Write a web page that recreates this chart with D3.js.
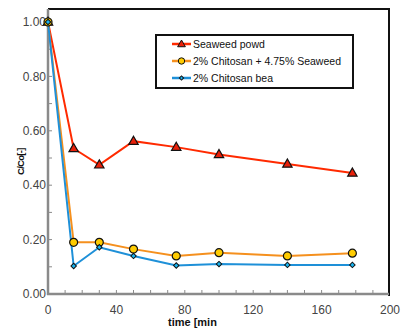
<!DOCTYPE html>
<html>
<head>
<meta charset="utf-8">
<script src="https://cdn.jsdelivr.net/npm/d3@7"></script>
<style>
  body { margin: 0; background: #fff; }
  text { font-family: "Liberation Sans", Arial, sans-serif; }
</style>
</head>
<body>
<div id="chart"></div>
<script>
const TIMES = [0, 15, 30, 50, 75, 100, 140, 178];
const SEAWEED = [1.0, 0.535, 0.475, 0.562, 0.54, 0.513, 0.478, 0.445];
const CHITOSAN_SEAWEED = [1.0, 0.19, 0.19, 0.165, 0.14, 0.152, 0.14, 0.15];
const CHITOSAN_BEAD = [1.0, 0.103, 0.172, 0.14, 0.105, 0.11, 0.107, 0.107];
const X_TICKS = [0, 40, 80, 120, 160, 200];
const Y_TICKS = [0, 0.2, 0.4, 0.6, 0.8, 1.0];

const SERIES = [
  { label: "Seaweed  powd", values: SEAWEED, line: "#ff2a00", fill: "#e8200a", shape: "triangle" },
  { label: "2% Chitosan + 4.75% Seaweed", values: CHITOSAN_SEAWEED, line: "#f5901e", fill: "#ffcc00", shape: "circle" },
  { label: "2% Chitosan  bea", values: CHITOSAN_BEAD, line: "#1e90d8", fill: "#18b4f0", shape: "diamond" },
];

const W = 403, H = 331;
const svg = d3.select("#chart").append("svg").attr("width", W).attr("height", H);

const x = d3.scaleLinear().domain([0, 200]).range([48, 390]);
const y = d3.scaleLinear().domain([0, 1]).range([294, 22]);
const frameTop = 9, frameRight = 389;

// frame: black top & right
svg.append("path")
  .attr("d", `M${x(0)},${frameTop} H${frameRight} V${y(0) + 2}`)
  .attr("fill", "none").attr("stroke", "#111").attr("stroke-width", 2);

// axes (gray)
svg.append("line").attr("x1", x(0)).attr("x2", x(0)).attr("y1", frameTop).attr("y2", y(0) + 1)
  .attr("stroke", "#8a8a8a").attr("stroke-width", 2.5);
svg.append("line").attr("x1", x(0) - 1).attr("x2", frameRight).attr("y1", y(0)).attr("y2", y(0))
  .attr("stroke", "#8a8a8a").attr("stroke-width", 2.5);

// minor ticks
const g = svg.append("g");
d3.range(0, 1.0001, 0.1).forEach((v) => {
  g.append("line").attr("x1", x(0)).attr("x2", x(0) + 4).attr("y1", y(v)).attr("y2", y(v))
    .attr("stroke", "#8a8a8a").attr("stroke-width", 1);
});
d3.range(10, 200, 10).forEach((v) => {
  g.append("line").attr("x1", x(v)).attr("x2", x(v)).attr("y1", y(0)).attr("y2", y(0) - 4)
    .attr("stroke", "#8a8a8a").attr("stroke-width", 1);
});

// tick labels
svg.selectAll(".ylab").data(Y_TICKS).join("text")
  .attr("x", x(0) - 2).attr("y", (d) => y(d)).attr("dy", "0.35em")
  .attr("text-anchor", "end").attr("font-size", 12).attr("fill", "#444")
  .text((d) => d3.format(".2f")(d));
svg.selectAll(".xlab").data(X_TICKS).join("text")
  .attr("x", (d) => x(d)).attr("y", y(0) + 20)
  .attr("text-anchor", "middle").attr("font-size", 12).attr("fill", "#444")
  .text((d) => d);

// axis titles
svg.append("text").attr("x", 168).attr("y", 326)
  .attr("font-size", 11).attr("font-weight", "bold").attr("fill", "#111")
  .text("time  [min");
svg.append("text").attr("transform", "translate(24,175) rotate(-90)")
  .attr("font-size", 9.5).attr("font-weight", "bold").attr("fill", "#111")
  .attr("letter-spacing", "-0.7")
  .text("C/Co[-]");

function marker(sel, shape, fill) {
  if (shape === "triangle") {
    sel.append("path").attr("d", d3.symbol(d3.symbolTriangle, 38)())
      .attr("transform", "translate(0,0.5)")
      .attr("fill", fill).attr("stroke", "#111").attr("stroke-width", 1.2);
  } else if (shape === "circle") {
    sel.append("circle").attr("r", 4).attr("fill", fill).attr("stroke", "#111").attr("stroke-width", 1.2);
  } else {
    sel.append("path").attr("d", d3.symbol(d3.symbolSquare, 15)())
      .attr("transform", "rotate(45)")
      .attr("fill", fill).attr("stroke", "#111").attr("stroke-width", 1);
  }
}

const line = d3.line().x((d) => x(d[0])).y((d) => y(d[1]));

// draw lines first, then markers (blue on top)
SERIES.forEach((s) => {
  const pts = TIMES.map((t, i) => [t, s.values[i]]);
  svg.append("path").datum(pts).attr("d", line)
    .attr("fill", "none").attr("stroke", s.line).attr("stroke-width", 2);
});
SERIES.forEach((s) => {
  TIMES.forEach((t, i) => {
    const m = svg.append("g").attr("transform", `translate(${x(t)},${y(s.values[i])})`);
    marker(m, s.shape, s.fill);
  });
});

// legend
const lg = svg.append("g");
lg.append("rect").attr("x", 156).attr("y", 35).attr("width", 197).attr("height", 53)
  .attr("fill", "#fff").attr("stroke", "#111").attr("stroke-width", 2);
SERIES.forEach((s, i) => {
  const ly = 44 + i * 17;
  lg.append("line").attr("x1", 172).attr("x2", 191).attr("y1", ly).attr("y2", ly)
    .attr("stroke", s.line).attr("stroke-width", 2.5);
  const m = lg.append("g").attr("transform", `translate(181.5,${ly})`);
  if (s.shape === "triangle") {
    m.append("path").attr("d", d3.symbol(d3.symbolTriangle, 26)()).attr("transform", "translate(0,0.5)")
      .attr("fill", s.fill).attr("stroke", "#111").attr("stroke-width", 1);
  } else if (s.shape === "circle") {
    m.append("circle").attr("r", 3.2).attr("fill", s.fill).attr("stroke", "#111").attr("stroke-width", 1);
  } else {
    m.append("path").attr("d", d3.symbol(d3.symbolSquare, 9)()).attr("transform", "rotate(45)")
      .attr("fill", s.fill).attr("stroke", "#111").attr("stroke-width", 1);
  }
  lg.append("text").attr("x", 193).attr("y", ly).attr("dy", "0.35em")
    .attr("font-size", 10.5).attr("fill", "#111").text(s.label);
});
</script>
</body>
</html>
